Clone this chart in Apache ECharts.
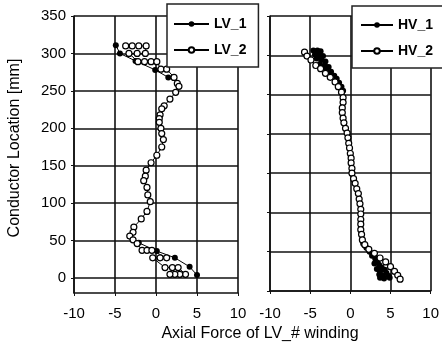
<!DOCTYPE html>
<html>
<head>
<meta charset="utf-8">
<script src="https://cdn.jsdelivr.net/npm/echarts@6/dist/echarts.min.js"></script>
<style>
  html, body { margin: 0; padding: 0; background: #fff; }
  #chart { width: 442px; height: 351px; }
</style>
</head>
<body>
<div id="chart"></div>
<script>
// tick labels
const forceTicks = [-10, -5, 0, 5, 10];
const locTicks = [0, 50, 100, 150, 200, 250, 300, 350];

// LV winding (left panel)
const lv1TopForce = [-4.9, -4.4, -2.5, -0.1, 1.5];
const lv1TopLoc = [311, 300, 290, 278, 268];
const lv1BotForce = [-2.1, 0.1, 2.3, 4.1, 5.0];
const lv1BotLoc = [47, 36, 27, 15, 4];
const lv2Force = [-3.7, -2.9, -2.1, -1.2, -1.3, -2.3, -3.3, -2.2, -1.4, -0.6, 0.1, 0.6, 1.3,
  2.2, 2.6, 2.8, 2.4, 1.7, 1.0, 0.7, 0.5, 0.4, 0.4, 0.6, 0.7, 0.9, 0.7, 0.1, -0.6, -1.2,
  -1.3, -1.5, -1.1, -1.0, -0.7, -1.1, -1.8, -2.7, -2.8, -3.2, -2.8, -2.3,
  -1.7, -1.1, -0.5, 1.3, 0.5, -0.4, 1.1, 2.0, 2.7, 3.6, 2.9, 2.3, 1.7];
const lv2Loc = [310, 310, 310, 310, 300, 300, 300, 289, 289, 289, 289, 279, 279,
  268, 260, 256, 248, 239, 230, 226, 218, 213, 208, 200, 193, 185, 175, 164, 154, 144,
  136, 130, 121, 111, 102, 89, 79, 68, 61, 56, 51, 46,
  37, 37, 37, 27, 27, 27, 14, 14, 14, 5, 5, 5, 5];

// HV winding (right panel)
const hv1TopForce = [-4.6, -4.1, -3.7, -3.4, -3.9, -4.4, -4.2, -3.6, -3.1, -2.7, -3.2, -3.8,
  -3.0, -2.4, -2.0, -1.7, -1.4, -1.1, -0.9];
const hv1TopLoc = [306, 306, 305, 299, 300, 301, 296, 294, 292, 285, 287, 289,
  281, 279, 274, 270, 265, 260, 255];
const hv1BotForce = [1.6, 2.0, 2.4, 2.7, 3.1, 3.4, 3.0, 3.6, 3.9, 3.3, 3.7, 4.3, 4.5, 3.6,
  4.0, 4.8, 3.7, 4.2, 4.9];
const hv1BotLoc = [60, 55, 50, 45, 41, 37, 35, 33, 30, 28, 25, 27, 23, 21, 20, 19, 17, 16, 17];
const hv2Force = [-5.7, -5.4, -4.9, -4.3, -3.7, -3.1, -2.5, -1.9, -1.5, -1.1, -0.9, -0.9,
  -1.0, -1.0, -0.9, -0.8, -0.6, -0.4, -0.3, -0.2, -0.1, 0.0, 0.1, 0.1, 0.2, 0.2, 0.4, 0.6,
  0.8, 1.0, 1.1, 1.2, 1.3, 1.3, 1.3, 1.3, 1.3, 1.4, 1.5, 1.8, 2.3, 3.0, 3.7, 4.4, 5.0, 5.5,
  5.9, 6.2];
const hv2Loc = [304, 299, 294, 287, 283, 277, 272, 266, 260, 253, 246, 240,
  233, 227, 220, 214, 207, 201, 195, 188, 182, 175, 169, 163, 156, 150, 143, 137,
  130, 124, 117, 111, 104, 98, 91, 85, 78, 72, 65, 59, 53, 48, 42, 37, 31, 25,
  20, 15];

const zip = (xs, ys) => xs.map((x, i) => [x, ys[i]]);

const font = 'Liberation Sans, Arial, sans-serif';
const black = '#111';

const myChart = echarts.init(document.getElementById('chart'));

function xAxis(gridIndex, margin) {
  return {
    type: 'value',
    gridIndex: gridIndex,
    min: forceTicks[0],
    max: forceTicks[forceTicks.length - 1],
    interval: 5,
    axisLine: { show: true, onZero: false, lineStyle: { color: black, width: 1.5 } },
    axisTick: { show: true, length: 3, lineStyle: { color: black } },
    axisLabel: { color: '#000', fontSize: 15, fontFamily: font, margin: margin },
    splitLine: { show: true, lineStyle: { color: black, width: 1.6 } },
  };
}

function lineSeries(name, data, xi, filled) {
  return {
    name: name,
    type: 'line',
    xAxisIndex: xi,
    yAxisIndex: xi,
    data: data,
    symbol: 'circle',
    symbolSize: 6,
    showSymbol: true,
    animation: false,
    lineStyle: { color: '#000', width: 1 },
    itemStyle: filled
      ? { color: '#000', borderColor: '#000', borderWidth: 0 }
      : { color: '#fff', borderColor: '#000', borderWidth: 1.2 },
  };
}

const legendBase = {
  orient: 'vertical',
  backgroundColor: '#fff',
  borderColor: '#222',
  borderWidth: 1.5,
  borderRadius: 0,
  itemHeight: 7,
  itemGap: 12,
  textStyle: { color: '#000', fontSize: 14, fontWeight: 'bold', fontFamily: font },
  z: 10,
};

myChart.setOption({
  animation: false,
  textStyle: { fontFamily: font },
  grid: [
    { left: 74, right: 204, top: 16, bottom: 58 },
    { left: 270, right: 9, top: 16, bottom: 60 },
  ],
  legend: [
    Object.assign({}, legendBase, {
      data: ['LV_1', 'LV_2'],
      left: 167, top: 4,
      itemWidth: 35,
      padding: [13, 12, 10, 6],
    }),
    Object.assign({}, legendBase, {
      data: ['HV_1', 'HV_2'],
      left: 352, top: 6,
      itemWidth: 32,
      padding: [12, 12, 10, 8],
    }),
  ],
  xAxis: [xAxis(0, 13), xAxis(1, 15)],
  yAxis: [
    {
      type: 'value',
      gridIndex: 0,
      min: -20,
      max: 350,
      axisLine: { show: true, onZero: false, lineStyle: { color: black, width: 1.5 } },
      axisTick: { show: true, length: 3, customValues: locTicks, lineStyle: { color: black } },
      axisLabel: { color: '#000', fontSize: 15, fontFamily: font, margin: 8, customValues: locTicks },
      splitLine: { show: true, customValues: locTicks, lineStyle: { color: black, width: 1.6 } },
    },
    {
      type: 'value',
      gridIndex: 1,
      min: locTicks[0],
      max: locTicks[locTicks.length - 1],
      interval: 50,
      axisLine: { show: true, onZero: false, lineStyle: { color: black, width: 1.5 } },
      axisTick: { show: true, length: 3, lineStyle: { color: black } },
      axisLabel: { show: false },
      splitLine: { show: true, lineStyle: { color: black, width: 1.6 } },
    },
  ],
  graphic: [
    {
      type: 'text',
      x: 15, y: 148,
      rotation: Math.PI / 2,
      style: {
        text: 'Conductor Location [mm]',
        font: '16px ' + font,
        fill: '#000',
        align: 'center', verticalAlign: 'middle',
        textAlign: 'center', textVerticalAlign: 'middle',
      },
    },
    {
      type: 'text',
      x: 260, y: 334,
      style: {
        text: 'Axial Force of LV_# winding',
        font: '16px ' + font,
        fill: '#000',
        align: 'center', verticalAlign: 'middle',
        textAlign: 'center', textVerticalAlign: 'middle',
      },
    },
  ],
  series: [
    lineSeries('LV_1', zip(lv1TopForce, lv1TopLoc), 0, true),
    lineSeries('LV_1', zip(lv1BotForce, lv1BotLoc), 0, true),
    lineSeries('LV_2', zip(lv2Force, lv2Loc), 0, false),
    lineSeries('HV_1', zip(hv1TopForce, hv1TopLoc), 1, true),
    lineSeries('HV_1', zip(hv1BotForce, hv1BotLoc), 1, true),
    lineSeries('HV_2', zip(hv2Force, hv2Loc), 1, false),
  ],
});
</script>
</body>
</html>
